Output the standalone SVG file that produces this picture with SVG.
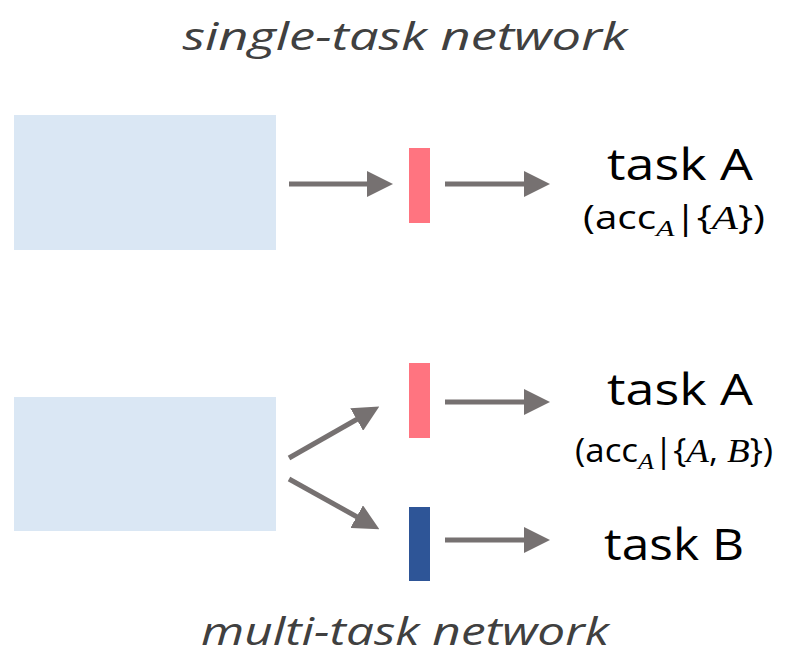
<svg xmlns="http://www.w3.org/2000/svg" width="798" height="657" viewBox="0 0 798 657">
<defs>
<style>
.input{fill:#dae7f4}
.pink{fill:#ff7480}
.navy{fill:#2e5597}
.title{font-family:"Open Sans","Noto Sans",sans-serif;font-style:italic;font-size:38px;fill:#404040;text-anchor:middle}
.task{font-family:"Open Sans","Noto Sans",sans-serif;font-size:43px;fill:#000;text-anchor:middle}
.math{font-family:"Open Sans","Noto Sans",sans-serif;font-size:32px;fill:#000;text-anchor:middle}
.it{font-family:"Liberation Serif","DejaVu Serif",serif;font-style:italic}
.conn line{stroke:#767171;stroke-width:5;marker-end:url(#ah)}
</style>
<marker id="ah" viewBox="0 0 10 10" refX="5" refY="5" markerUnits="userSpaceOnUse" markerWidth="26" markerHeight="26" orient="auto">
<path d="M0,0 L10,5 L0,10 Z" fill="#767171"/>
</marker>
</defs>
<rect width="798" height="657" fill="#fff"/>
<text class="title" x="405" y="50" textLength="445" lengthAdjust="spacingAndGlyphs">single-task network</text>
<text class="title" x="405" y="645" textLength="408" lengthAdjust="spacingAndGlyphs">multi-task network</text>
<g id="input-single"><rect class="input" x="14" y="115" width="262" height="135"/></g>
<g id="head-single-A"><rect class="pink" x="409" y="148" width="21" height="75"/></g>
<g id="task-single-A">
<text class="task" x="680" y="180" textLength="146" lengthAdjust="spacingAndGlyphs">task A</text>
<text class="math" x="674" y="229" textLength="182" lengthAdjust="spacingAndGlyphs">(acc<tspan class="it" font-size="24" dy="7">A</tspan><tspan dy="-7">|{</tspan><tspan class="it" font-size="34">A</tspan>})</text>
</g>
<g id="input-multi"><rect class="input" x="14" y="397" width="262" height="134"/></g>
<g id="head-multi-A"><rect class="pink" x="409" y="363" width="21" height="75"/></g>
<g id="head-multi-B"><rect class="navy" x="409" y="507" width="21" height="74"/></g>
<g id="task-multi-A">
<text class="task" x="680" y="405" textLength="146" lengthAdjust="spacingAndGlyphs">task A</text>
<text class="math" x="674" y="462" textLength="198" lengthAdjust="spacingAndGlyphs">(acc<tspan class="it" font-size="24" dy="7">A</tspan><tspan dy="-7">|{</tspan><tspan class="it" font-size="34">A</tspan>, <tspan class="it" font-size="34">B</tspan>})</text>
</g>
<g id="task-multi-B">
<text class="task" x="674" y="560" textLength="140" lengthAdjust="spacingAndGlyphs">task B</text>
</g>
<g id="connectors" class="conn">
<line x1="289" y1="184" x2="380" y2="184"/>
<line x1="445" y1="184" x2="537" y2="184"/>
<line x1="289" y1="458" x2="368" y2="413"/>
<line x1="289" y1="479" x2="368" y2="523"/>
<line x1="445" y1="402" x2="537" y2="402"/>
<line x1="445" y1="540" x2="537" y2="540"/>
</g>
</svg>
